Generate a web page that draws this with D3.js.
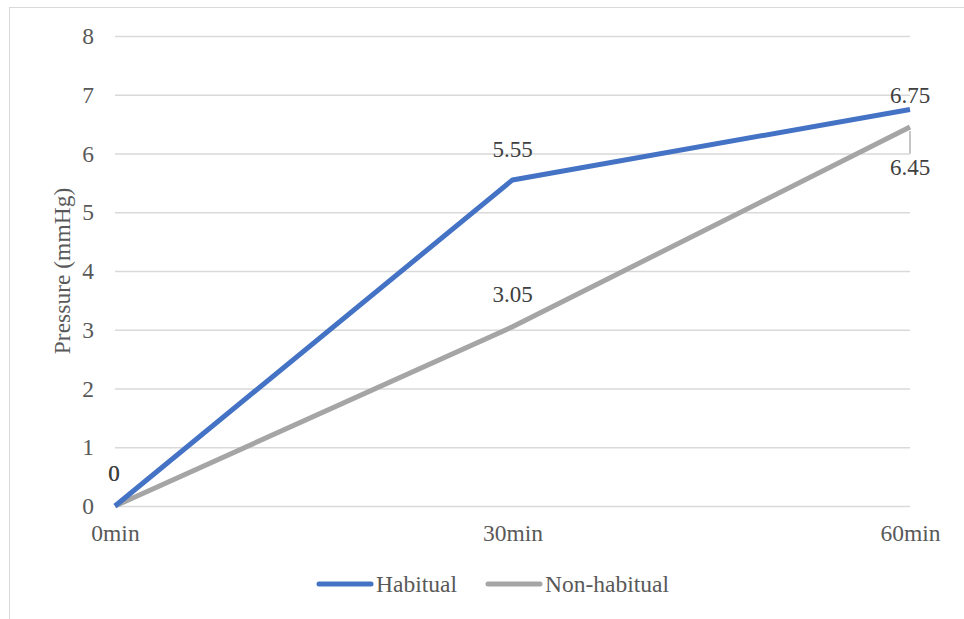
<!DOCTYPE html>
<html><head><meta charset="utf-8">
<script src="https://cdn.jsdelivr.net/npm/d3@7"></script>
<style>body{margin:0;background:#fff;}svg{display:block;}</style>
</head><body>
<svg id="c" width="964" height="619"></svg>
<script>
const categories = ["0min", "30min", "60min"];
const habitual = [0, 5.55, 6.75];
const nonHabitual = [0, 3.05, 6.45];
const yTicks = [0, 1, 2, 3, 4, 5, 6, 7, 8];
const seriesNames = ["Habitual", "Non-habitual"];
const colors = ["#4472C4", "#A5A5A5"];

const svg = d3.select("#c");
const font = "'Liberation Serif', 'Times New Roman', serif";
svg.append("rect").attr("x", 9.5).attr("y", 7.5).attr("width", 980).attr("height", 640)
  .attr("fill", "#fff").attr("stroke", "#d9d9d9").attr("stroke-width", 1);

const x = d3.scalePoint().domain(categories).range([115, 910]);
const y = d3.scaleLinear().domain([0, 8]).range([506, 36]);

const yAxis = d3.axisLeft(y).tickValues(yTicks).tickSize(-(910 - 115)).tickPadding(21).tickFormat(d3.format("d"));
const gy = svg.append("g").attr("transform", "translate(115,0)").call(yAxis);
gy.select(".domain").remove();
gy.selectAll(".tick line").attr("stroke", "#d9d9d9").attr("stroke-width", 1.3);
gy.selectAll(".tick text").attr("fill", "#595959").attr("font-family", font).attr("font-size", 23.5);

const xAxis = d3.axisBottom(x).tickSize(0).tickPadding(18);
const gx = svg.append("g").attr("transform", "translate(0,506)").call(xAxis);
gx.select(".domain").remove();
gx.selectAll(".tick text").attr("fill", "#595959").attr("font-family", font).attr("font-size", 23.5);

svg.append("text").attr("transform", "translate(70,271) rotate(-90)")
  .attr("text-anchor", "middle").attr("fill", "#595959").attr("font-family", font).attr("font-size", 23.5)
  .text("Pressure (mmHg)");

const line = d3.line().x((d, i) => x(categories[i])).y(d => y(d));
const data = [habitual, nonHabitual];
[1, 0].forEach(k => {
  svg.append("path").datum(data[k]).attr("d", line).attr("fill", "none")
    .attr("stroke", colors[k]).attr("stroke-width", 5).attr("stroke-linejoin", "round");
});

// leader line for 6.45
svg.append("line").attr("x1", x("60min")).attr("x2", x("60min"))
  .attr("y1", y(nonHabitual[2]) + 4).attr("y2", y(6)).attr("stroke", "#a6a6a6").attr("stroke-width", 1.3);

const labelAttrs = sel => sel.attr("fill", "#404040").attr("font-family", font).attr("font-size", 23).attr("text-anchor", "middle");
const habOffsets = [[-1, -25], [0, -23], [0, -6]];
const nonOffsets = [[-1, -25], [0, -25], [0, 48]];
habitual.forEach((v, i) => {
  svg.append("text").call(labelAttrs).attr("x", x(categories[i]) + habOffsets[i][0])
    .attr("y", y(v) + habOffsets[i][1]).text(String(v));
});
nonHabitual.forEach((v, i) => {
  svg.append("text").call(labelAttrs).attr("x", x(categories[i]) + nonOffsets[i][0])
    .attr("y", y(v) + nonOffsets[i][1]).text(String(v));
});

const legend = [{n: seriesNames[0], c: colors[0], x: 319}, {n: seriesNames[1], c: colors[1], x: 488}];
legend.forEach(l => {
  svg.append("line").attr("x1", l.x).attr("x2", l.x + 52).attr("y1", 584).attr("y2", 584)
    .attr("stroke", l.c).attr("stroke-width", 5).attr("stroke-linecap", "round");
  svg.append("text").attr("x", l.x + 57).attr("y", 592).attr("fill", "#595959")
    .attr("font-family", font).attr("font-size", 23.5).text(l.n);
});
</script>
</body></html>
